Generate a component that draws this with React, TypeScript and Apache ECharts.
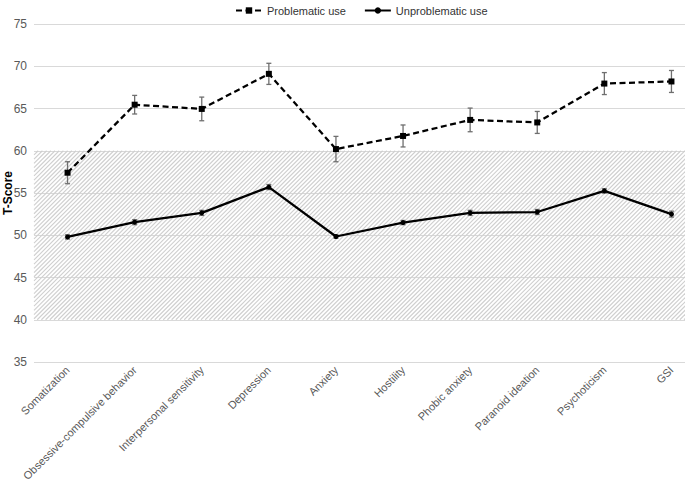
import React, { useEffect, useRef } from "react";
import * as echarts from "echarts";

const categories = [
  "Somatization",
  "Obsessive-compulsive behavior",
  "Interpersonal sensitivity",
  "Depression",
  "Anxiety",
  "Hostility",
  "Phobic anxiety",
  "Paranoid ideation",
  "Psychoticism",
  "GSI",
];
const problematic = [57.4, 65.45, 64.95, 69.1, 60.2, 61.75, 63.65, 63.35, 67.95, 68.2];
const problematicErr = [1.3, 1.1, 1.4, 1.25, 1.5, 1.3, 1.4, 1.3, 1.3, 1.3];
const unproblematic = [49.8, 51.55, 52.65, 55.7, 49.85, 51.5, 52.65, 52.75, 55.25, 52.5];
const unproblematicErr = [0.25, 0.3, 0.3, 0.3, 0.2, 0.25, 0.3, 0.3, 0.25, 0.35];
const normalRange = [40, 60];
const yTicks = { min: 35, max: 75, interval: 5 };
const yAxisTitle = "T-Score";

const errData = (vals: number[], errs: number[]) =>
  vals.map((v, i) => [i, v - errs[i], v + errs[i]]);

export default function App() {
  const ref = useRef<HTMLDivElement>(null);
  useEffect(() => {
    if (!ref.current) return;
    const chart = echarts.init(ref.current, null, { renderer: "svg" });
    const errRender = (params: any, api: any) => {
      const lo = api.coord([api.value(0), api.value(1)]);
      const hi = api.coord([api.value(0), api.value(2)]);
      const w = 2.5;
      const style = { stroke: "#6f6f6f", lineWidth: 1.3 };
      return {
        type: "group",
        children: [
          { type: "line", shape: { x1: lo[0], y1: lo[1], x2: hi[0], y2: hi[1] }, style },
          { type: "line", shape: { x1: lo[0] - w, y1: lo[1], x2: lo[0] + w, y2: lo[1] }, style },
          { type: "line", shape: { x1: hi[0] - w, y1: hi[1], x2: hi[0] + w, y2: hi[1] }, style },
        ],
      };
    };
    const hatchRender = (params: any, api: any) => {
      const cs = params.coordSys;
      const top = api.coord([0, api.value(1)])[1];
      const bottom = api.coord([0, api.value(0)])[1];
      const x0 = cs.x;
      const x1 = cs.x + cs.width;
      const children: any[] = [];
      const step = 4.2;
      for (let c = x0 + top; c <= x1 + bottom; c += step) {
        const xa = Math.max(x0, c - bottom);
        const xb = Math.min(x1, c - top);
        if (xa < xb) {
          children.push({
            type: "line",
            shape: { x1: xa, y1: c - xa, x2: xb, y2: c - xb },
            style: { stroke: "#cfcfcf", lineWidth: 1.1 },
          });
        }
      }
      return { type: "group", children };
    };
    chart.setOption({
      animation: false,
      textStyle: { fontFamily: "Liberation Sans, Arial, sans-serif" },
      legend: {
        top: 0,
        left: 230,
        itemWidth: 26,
        itemHeight: 8,
        itemGap: 18,
        textStyle: { fontSize: 11, color: "#333" },
        data: ["Problematic use", "Unproblematic use"],
      },
      graphic: [
        {
          type: "text",
          x: 8,
          y: 193,
          rotation: Math.PI / 2,
          style: {
            text: yAxisTitle,
            fontFamily: "Liberation Sans, Arial, sans-serif",
            fontWeight: "bold",
            fontSize: 12,
            fill: "#000",
            textAlign: "center",
            textVerticalAlign: "middle",
          },
        },
      ],
      grid: { left: 34, right: -20, top: 24, bottom: 119, outerBoundsMode: "none", containLabel: false },
      xAxis: {
        type: "category",
        data: categories,
        boundaryGap: true,
        axisLine: { show: false },
        axisTick: { show: false },
        axisLabel: { interval: 0, rotate: 45, fontSize: 11, color: "#595959", margin: 6 },
      },
      yAxis: {
        type: "value",
        min: yTicks.min,
        max: yTicks.max,
        interval: yTicks.interval,
        axisLine: { show: false },
        axisTick: { show: false },
        axisLabel: { fontSize: 12, color: "#595959", margin: 7 },
        splitLine: { lineStyle: { color: "#d9d9d9", width: 1 } },
      },
      series: [
        {
          type: "custom",
          name: "hatch",
          silent: true,
          z: 1,
          renderItem: hatchRender,
          data: [[normalRange[0], normalRange[1]]],
          encode: { y: [0, 1] },
          clip: false,
        },
        {
          type: "custom",
          name: "errP",
          silent: true,
          z: 3,
          renderItem: errRender,
          data: errData(problematic, problematicErr),
          encode: { x: 0, y: [1, 2] },
        },
        {
          type: "custom",
          name: "errU",
          silent: true,
          z: 3,
          renderItem: errRender,
          data: errData(unproblematic, unproblematicErr),
          encode: { x: 0, y: [1, 2] },
        },
        {
          type: "line",
          name: "Problematic use",
          data: problematic,
          z: 4,
          symbol: "rect",
          symbolSize: 6,
          itemStyle: { color: "#000" },
          lineStyle: { color: "#000", width: 2.25, type: [6, 3.5] },
        },
        {
          type: "line",
          name: "Unproblematic use",
          data: unproblematic,
          z: 4,
          symbol: "circle",
          symbolSize: 5,
          itemStyle: { color: "#000" },
          lineStyle: { color: "#000", width: 2.25 },
        },
      ],
    });
    return () => chart.dispose();
  }, []);
  return (
    <div
      ref={ref}
      style={{ position: "fixed", left: 0, top: 0, width: 685, height: 481, background: "#fff" }}
    />
  );
}
